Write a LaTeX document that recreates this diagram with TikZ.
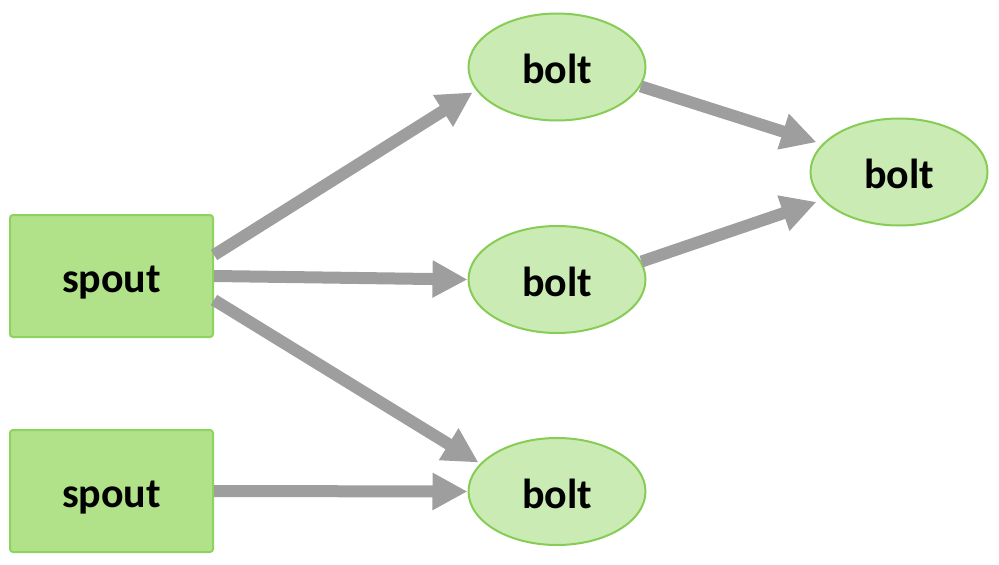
\documentclass[tikz,border=0pt]{standalone}
\usepackage{fontspec}
\setmainfont{Carlito}
\usetikzlibrary{arrows.meta,shapes.geometric}
\definecolor{rectfill}{HTML}{B1E289}
\definecolor{rectdraw}{HTML}{8DD35F}
\definecolor{ellfill}{HTML}{CBEBB4}
\definecolor{elldraw}{HTML}{86CC55}
\definecolor{arrgray}{HTML}{9E9E9E}
\tikzset{
  spoutbox/.style={draw=rectdraw, fill=rectfill, line width=2pt, rounded corners=3pt,
    minimum width=203pt, minimum height=122pt, inner sep=0pt,
    text height=35pt, text depth=2pt,
    font=\fontsize{42}{50}\selectfont\bfseries},
  boltell/.style={draw=elldraw, fill=ellfill, line width=2pt, ellipse,
    minimum width=177pt, minimum height=107pt, inner sep=0pt,
    text height=35pt, text depth=2pt,
    font=\fontsize{42}{50}\selectfont\bfseries},
  flow/.style={draw=arrgray, line width=12pt, -{Triangle[length=35pt,width=35pt]}},
}
\begin{document}
\begin{tikzpicture}[x=1pt,y=-1pt]
\useasboundingbox (0,0) rectangle (999,565);
\node[spoutbox] (s1) at (111.5,276) {spout};
\node[spoutbox] (s2) at (111.5,491) {spout};
\node[boltell] (b1) at (557,67) {bolt};
\node[boltell] (b2) at (557,279.5) {bolt};
\node[boltell] (b3) at (557,491.5) {bolt};
\node[boltell] (b4) at (899,172) {bolt};
\draw[flow, shorten >=4pt] ([yshift=21pt]s1.east) -- (b1.196);
\draw[flow] (s1.east) -- (b2.west);
\draw[flow, shorten >=2pt] ([yshift=-24pt]s1.east) -- (b3.160);
\draw[flow] (s2.east) -- (b3.west);
\draw[flow, shorten >=6pt] (b1.-13) -- (b4.160);
\draw[flow, shorten >=6pt] (b2.12) -- (b4.200);
\end{tikzpicture}
\end{document}
